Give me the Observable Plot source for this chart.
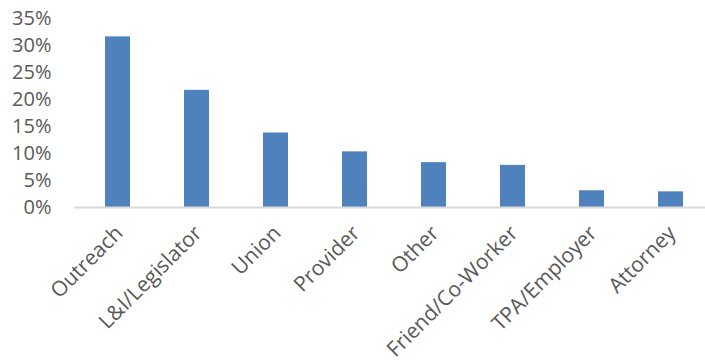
<!DOCTYPE html>
<html>
<head>
<meta charset="utf-8">
<script src="https://cdn.jsdelivr.net/npm/d3@7"></script>
<script src="https://cdn.jsdelivr.net/npm/@observablehq/plot@0.6"></script>
<style>
  html, body { margin: 0; padding: 0; background: #fff; }
  #chart svg { display: block; }
</style>
</head>
<body>
<div id="chart"></div>
<script>
const categories = ["Outreach", "L&I/Legislator", "Union", "Provider", "Other", "Friend/Co-Worker", "TPA/Employer", "Attorney"];
const shares = [0.316, 0.217, 0.138, 0.103, 0.083, 0.078, 0.031, 0.029];
const yTicks = [0, 0.05, 0.10, 0.15, 0.20, 0.25, 0.30, 0.35];

const data = categories.map((c, i) => ({category: c, share: shares[i]}));

const chart = Plot.plot({
  width: 705,
  height: 364,
  marginLeft: 74,
  marginRight: 0,
  marginTop: 18,
  marginBottom: 157,
  style: {fontFamily: "'Open Sans', sans-serif", fontSize: "20px", color: "#595959", background: "#fff"},
  x: {type: "band", domain: categories, range: [74, 713], paddingInner: 0.687, paddingOuter: 0.3435, align: 0.5, axis: null},
  y: {domain: [0, 0.35], axis: null},
  marks: [
    Plot.axisY({ticks: yTicks, tickFormat: d3.format(".0%"), tickSize: 0, tickPadding: 23, label: null, fontSize: 20, fill: "#595959"}),
    Plot.barY(data, {x: "category", y: "share", fill: "#4F81BD"}),
    Plot.ruleY([0], {stroke: "#D9D9D9", strokeWidth: 2}),
    Plot.text(data, {x: "category", frameAnchor: "bottom", text: "category", rotate: -45, textAnchor: "end", lineAnchor: "bottom", dx: 6, dy: 27, fontSize: 21, fill: "#595959"})
  ]
});
document.getElementById("chart").appendChild(chart);
</script>
</body>
</html>
